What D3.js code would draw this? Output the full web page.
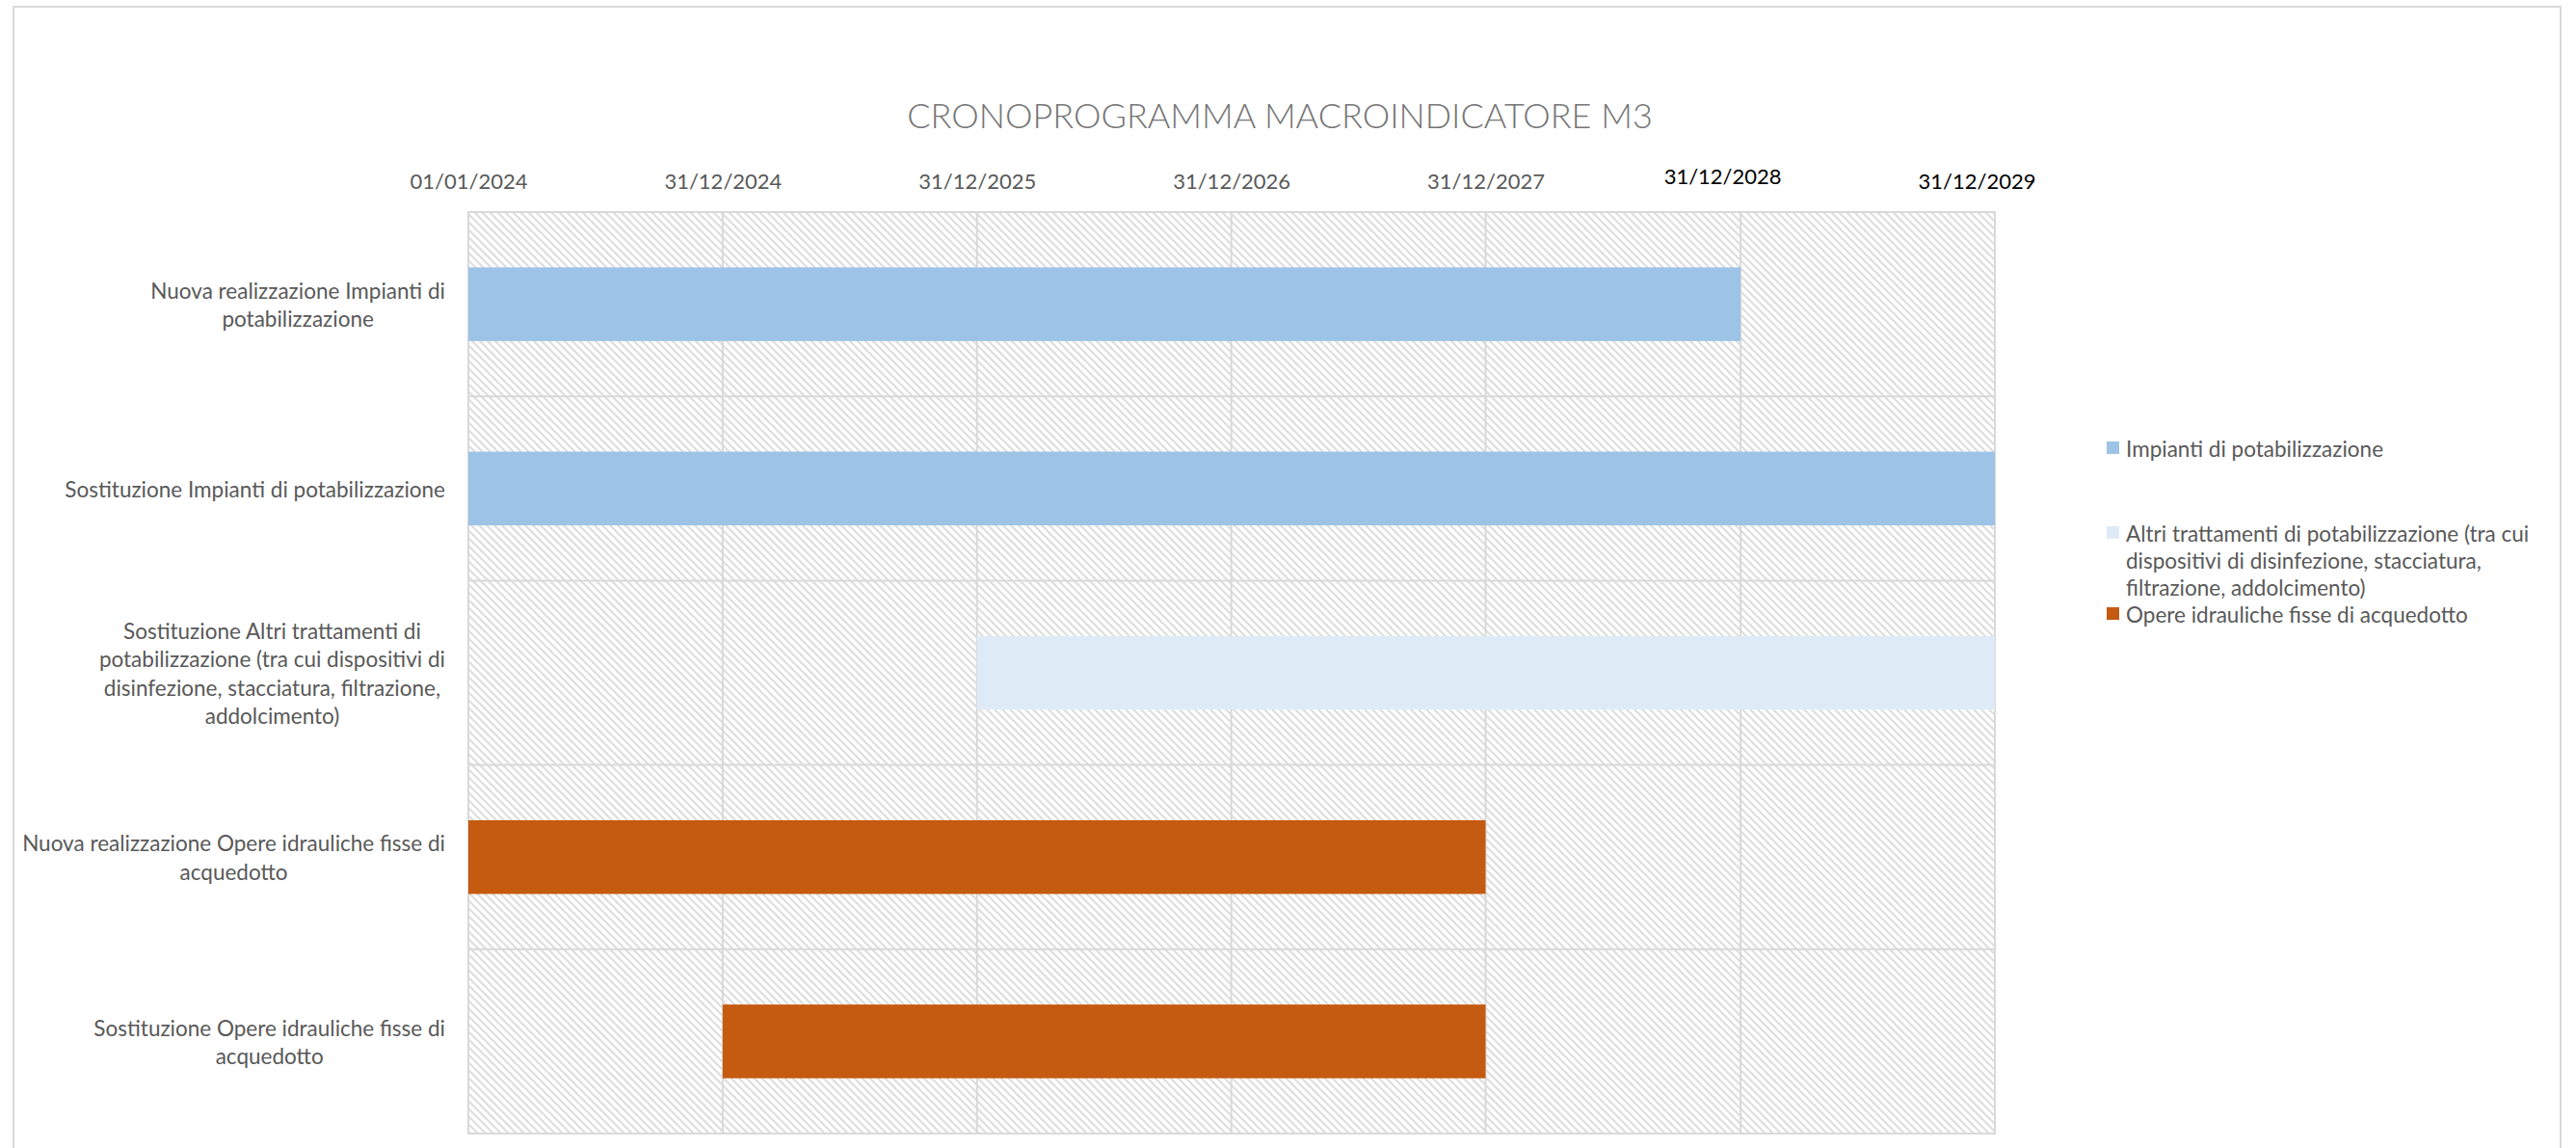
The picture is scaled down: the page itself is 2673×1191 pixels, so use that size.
<!DOCTYPE html>
<html>
<head>
<meta charset="utf-8">
<script src="https://cdn.jsdelivr.net/npm/d3@7"></script>
<style>
  body { margin: 0; background: #fff; }
  text { font-family: Lato, "Open Sans", sans-serif; }
</style>
</head>
<body>
<div id="chart"></div>
<script>
const width = 2673, height = 1191;

// data
const categories = [
  "Nuova realizzazione Impianti di potabilizzazione",
  "Sostituzione Impianti di potabilizzazione",
  "Sostituzione Altri trattamenti di potabilizzazione (tra cui dispositivi di disinfezione, stacciatura, filtrazione, addolcimento)",
  "Nuova realizzazione Opere idrauliche fisse di acquedotto",
  "Sostituzione Opere idrauliche fisse di acquedotto"
];
const startDates = ["2024-01-01", "2024-01-01", "2025-12-31", "2024-01-01", "2024-12-31"];
const endDates   = ["2028-12-31", "2029-12-31", "2029-12-31", "2027-12-31", "2027-12-31"];
const barSeries  = [0, 0, 1, 2, 2];

const seriesNames = [
  "Impianti di potabilizzazione",
  "Altri trattamenti di potabilizzazione (tra cui dispositivi di disinfezione, stacciatura, filtrazione, addolcimento)",
  "Opere idrauliche fisse di acquedotto"
];
const seriesColors = ["#9dc3e6", "#deebf7", "#c55a11"];

const tickDates  = ["2024-01-01", "2024-12-31", "2025-12-31", "2026-12-31", "2027-12-31", "2028-12-31", "2029-12-31"];
const tickLabels = ["01/01/2024", "31/12/2024", "31/12/2025", "31/12/2026", "31/12/2027", "31/12/2028", "31/12/2029"];

const parse = d3.utcParse("%Y-%m-%d");

const plot = { left: 486, right: 2070, top: 220, bottom: 1176 };

const svg = d3.select("#chart")
  .append("svg")
  .attr("width", width)
  .attr("height", height)
  .attr("viewBox", [0, 0, width, height]);

// hatch pattern for plot background
const pat = svg.append("defs").append("pattern")
  .attr("id", "hatch")
  .attr("patternUnits", "userSpaceOnUse")
  .attr("width", 8)
  .attr("height", 8);
pat.append("rect").attr("width", 8).attr("height", 8).attr("fill", "#fff");
pat.append("path")
  .attr("d", "M-2,-2 L10,10 M-2,6 L2,10 M6,-2 L10,2")
  .attr("stroke", "#dedede")
  .attr("stroke-width", 2.2);

// chart border
svg.append("rect")
  .attr("x", 14).attr("y", 7)
  .attr("width", 2643).attr("height", 1200)
  .attr("fill", "none")
  .attr("stroke", "#d9d9d9")
  .attr("stroke-width", 2);

const x = d3.scaleUtc()
  .domain([parse(tickDates[0]), parse(tickDates[tickDates.length - 1])])
  .range([plot.left, plot.right]);

const y = d3.scaleBand()
  .domain(categories)
  .range([plot.top, plot.bottom]);

// background
svg.append("rect")
  .attr("x", plot.left).attr("y", plot.top)
  .attr("width", plot.right - plot.left)
  .attr("height", plot.bottom - plot.top)
  .attr("fill", "url(#hatch)");

// gridlines
svg.append("g")
  .selectAll("line")
  .data(tickDates)
  .join("line")
  .attr("x1", d => x(parse(d))).attr("x2", d => x(parse(d)))
  .attr("y1", plot.top).attr("y2", plot.bottom)
  .attr("stroke", "#d9d9d9")
  .attr("stroke-width", 2);

svg.append("g")
  .selectAll("line")
  .data(categories.slice(1))
  .join("line")
  .attr("x1", plot.left).attr("x2", plot.right)
  .attr("y1", d => y(d)).attr("y2", d => y(d))
  .attr("stroke", "#d9d9d9")
  .attr("stroke-width", 2);

svg.append("rect")
  .attr("x", plot.left).attr("y", plot.top)
  .attr("width", plot.right - plot.left)
  .attr("height", plot.bottom - plot.top)
  .attr("fill", "none")
  .attr("stroke", "#d9d9d9")
  .attr("stroke-width", 2);

// bars
svg.append("g")
  .selectAll("rect")
  .data(categories)
  .join("rect")
  .attr("x", (d, i) => x(parse(startDates[i])))
  .attr("width", (d, i) => x(parse(endDates[i])) - x(parse(startDates[i])))
  .attr("y", d => y(d) + y.bandwidth() * 0.3)
  .attr("height", y.bandwidth() * 0.4)
  .attr("fill", (d, i) => seriesColors[barSeries[i]]);

// top axis labels
const xAxis = d3.axisTop(x)
  .tickValues(tickDates.map(parse))
  .tickFormat((d, i) => tickLabels[i])
  .tickSize(0)
  .tickPadding(0);

const gx = svg.append("g")
  .attr("transform", `translate(0,${plot.top - 24})`)
  .call(xAxis);
gx.select(".domain").remove();
gx.selectAll("text")
  .attr("font-size", 22)
  .attr("fill", (d, i) => i >= 5 ? "#000" : "#595959")
  .attr("dx", (d, i) => i >= 5 ? -19 : 0)
  .attr("dy", (d, i) => i === 5 ? -5 : 0)
  .style("font-family", "Lato, 'Open Sans', sans-serif");

// word wrap helper
function wrap(textSel, maxWidth, lineHeight) {
  textSel.each(function () {
    const t = d3.select(this);
    const words = t.text().split(/\s+/);
    t.text(null);
    let lines = [], line = [];
    const probe = t.append("tspan");
    for (const w of words) {
      line.push(w);
      probe.text(line.join(" "));
      if (probe.node().getComputedTextLength() > maxWidth && line.length > 1) {
        line.pop();
        lines.push(line.join(" "));
        line = [w];
      }
    }
    lines.push(line.join(" "));
    probe.remove();
    this.__lines = lines;
    lines.forEach((l, i) => {
      t.append("tspan").attr("x", t.attr("x")).attr("dy", i === 0 ? 0 : lineHeight).text(l);
    });
  });
}

// y category labels (centered lines, block right-aligned to the axis)
const ylab = svg.append("g")
  .selectAll("text")
  .data(categories)
  .join("text")
  .attr("font-size", 22.5)
  .attr("fill", "#595959")
  .attr("x", 0)
  .text(d => d);

ylab.call(wrap, 452, 29.5);
ylab.each(function (d) {
  const t = d3.select(this);
  const n = this.__lines.length;
  const w = d3.max(t.selectAll("tspan").nodes(), n => n.getComputedTextLength());
  const cx = plot.left - 24 - w / 2;
  t.attr("text-anchor", "middle");
  t.selectAll("tspan").attr("x", cx);
  t.attr("y", y(d) + y.bandwidth() / 2 - (n - 1) * 29.5 / 2)
    .attr("dominant-baseline", "central");
  t.selectAll("tspan").attr("dominant-baseline", "central");
});

// title
svg.append("text")
  .attr("x", 1328)
  .attr("y", 119)
  .attr("text-anchor", "middle")
  .attr("dominant-baseline", "central")
  .attr("font-size", 36)
  .attr("font-weight", 300)
  .attr("fill", "#757575")
  .text("CRONOPROGRAMMA MACROINDICATORE M3");

// legend
const legendTop = [465, 553, 637];
const legend = svg.append("g")
  .selectAll("g")
  .data(seriesNames)
  .join("g")
  .attr("transform", (d, i) => `translate(2186,${legendTop[i]})`);

legend.append("rect")
  .attr("x", 0).attr("y", -7)
  .attr("width", 13).attr("height", 13)
  .attr("fill", (d, i) => seriesColors[i]);

legend.append("text")
  .attr("x", 20)
  .attr("y", 0)
  .attr("font-size", 22.5)
  .attr("fill", "#595959")
  .attr("dominant-baseline", "central")
  .text(d => d)
  .call(wrap, 445, 28)
  .selectAll("tspan").attr("dominant-baseline", "central");
</script>
</body>
</html>
